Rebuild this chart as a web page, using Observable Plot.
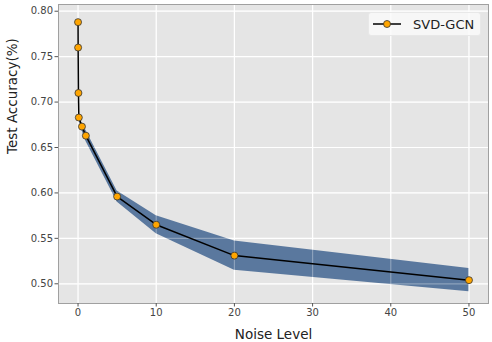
<!DOCTYPE html>
<html><head><meta charset="utf-8">
<script src="https://cdn.jsdelivr.net/npm/d3@7"></script>
<script src="https://cdn.jsdelivr.net/npm/@observablehq/plot@0.6"></script>
<style>
body{margin:0;background:#fff;}
#wrap{position:relative;width:492px;height:342px;font-family:"DejaVu Sans",sans-serif;}
#legend{position:absolute;left:368px;top:12px;width:113px;height:24px;background:rgba(250,250,250,0.85);border:1px solid #e8e8e8;border-radius:3px;box-sizing:border-box;}
#legend svg{position:absolute;left:3px;top:0;}
#legend span{position:absolute;left:44px;top:3px;font-size:13px;color:#222;line-height:17px;}
</style></head><body><div id="wrap"></div>
<script>
const noise = [0, 0.01, 0.05, 0.1, 0.5, 1, 5, 10, 20, 50];
const acc   = [0.788, 0.760, 0.710, 0.683, 0.673, 0.663, 0.596, 0.565, 0.531, 0.504];
const stdev = [0, 0, 0.001, 0.002, 0.004, 0.006, 0.006, 0.010, 0.016, 0.0127];
const xTicks = [0, 10, 20, 30, 40, 50];
const yTicks = [0.50, 0.55, 0.60, 0.65, 0.70, 0.75, 0.80];
const seriesName = "SVD-GCN";

const data = noise.map((n, i) => ({noise: n, acc: acc[i], lo: acc[i] - stdev[i], hi: acc[i] + stdev[i]}));

const chart = Plot.plot({
  width: 492, height: 342,
  marginLeft: 58, marginRight: 4, marginTop: 4, marginBottom: 39,
  style: {fontFamily: "DejaVu Sans, sans-serif", fontSize: "10px", color: "#444", background: "transparent"},
  x: {domain: [-2.5, 52.5]},
  y: {domain: [0.4783, 0.8074]},
  marks: [
    Plot.frame({fill: "#e5e5e5"}),
    Plot.gridX(xTicks, {stroke: "white", strokeOpacity: 1, strokeWidth: 1.2}),
    Plot.gridY(yTicks, {stroke: "white", strokeOpacity: 1, strokeWidth: 1.2}),
    Plot.areaY(data, {x: "noise", y1: "lo", y2: "hi", fill: "#52729a", fillOpacity: 0.95}),
    Plot.gridX(xTicks, {stroke: "white", strokeOpacity: 0.3, strokeWidth: 1.2}),
    Plot.gridY(yTicks, {stroke: "white", strokeOpacity: 0.3, strokeWidth: 1.2}),
    Plot.line(data, {x: "noise", y: "acc", stroke: "black", strokeWidth: 1.5}),
    Plot.dot(data, {x: "noise", y: "acc", r: 3.5, fill: "orange", stroke: "#333", strokeWidth: 0.8}),
    Plot.frame({stroke: "#a0a0a0"}),
    Plot.axisX(xTicks, {tickSize: 3.5, tickPadding: 2, stroke: "#555", label: null, tickFormat: d3.format("d")}),
    Plot.axisY(yTicks, {tickSize: 3.5, tickPadding: 2, stroke: "#555", label: null, tickFormat: d3.format(".2f")}),
    Plot.text(["Noise Level"], {frameAnchor: "bottom", dy: 35, fontSize: 13.5, fill: "#222"}),
    Plot.text(["Test Accuracy(%)"], {frameAnchor: "left", rotate: -90, dx: -46, fontSize: 13.5, fill: "#222"})
  ]
});
const wrap = document.getElementById("wrap");
wrap.appendChild(chart);
const leg = document.createElement("div");
leg.id = "legend";
leg.innerHTML = '<svg width="34" height="22"><line x1="1" y1="11" x2="29" y2="11" stroke="black" stroke-width="1.5"/><circle cx="15" cy="11" r="3.5" fill="orange" stroke="#333" stroke-width="0.8"/></svg><span></span>';
leg.querySelector("span").textContent = seriesName;
wrap.appendChild(leg);
</script>
</body></html>
